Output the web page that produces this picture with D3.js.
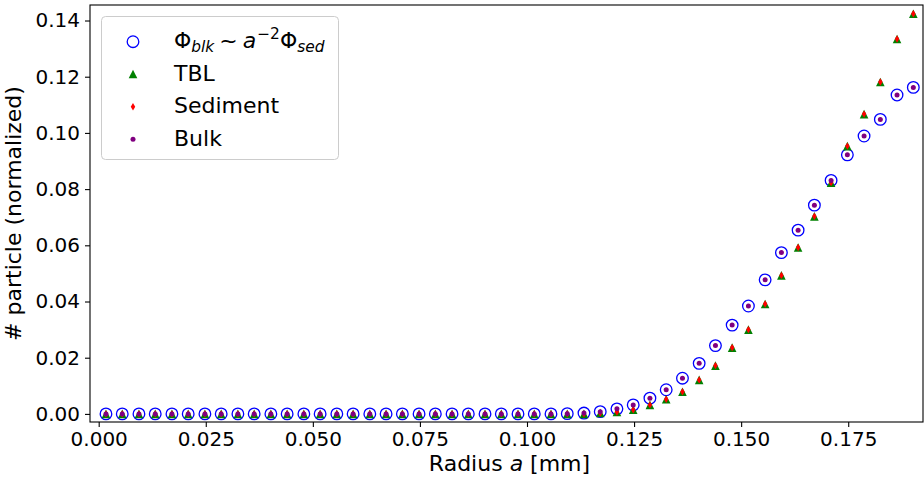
<!DOCTYPE html>
<html>
<head>
<meta charset="utf-8">
<script src="https://cdn.jsdelivr.net/npm/d3@7"></script>
<style>
  body { margin: 0; background: #fff; }
  text { font-family: "DejaVu Sans", sans-serif; }
</style>
</head>
<body>
<script>
// radius bins [mm]
var radius = [0.0017, 0.0055, 0.0094, 0.0132, 0.0171, 0.0209, 0.0248, 0.0286, 0.0325, 0.0363,
  0.0402, 0.0440, 0.0479, 0.0517, 0.0556, 0.0594, 0.0633, 0.0671, 0.0709, 0.0748,
  0.0786, 0.0825, 0.0863, 0.0902, 0.0940, 0.0979, 0.1017, 0.1056, 0.1094, 0.1133,
  0.1171, 0.1210, 0.1248, 0.1287, 0.1325, 0.1363, 0.1402, 0.1440, 0.1479, 0.1517,
  0.1556, 0.1594, 0.1633, 0.1671, 0.1710, 0.1748, 0.1787, 0.1825, 0.1864, 0.1902]

var phiBlk = [0, 0, 0, 0, 0, 0, 0, 0, 0, 0,
  0, 0, 0, 0, 0, 0, 0, 0, 0, 0,
  0, 0, 0, 0, 0, 0, 0, 0, 0.0001, 0.0003,
  0.0008, 0.0018, 0.0032, 0.0056, 0.0086, 0.0127, 0.0180, 0.0243, 0.0316, 0.0384,
  0.0477, 0.0574, 0.0654, 0.0743, 0.0831, 0.0922, 0.0989, 0.1048, 0.1135, 0.1162]

var tbl = [0, 0, 0, 0, 0, 0, 0, 0, 0, 0,
  0, 0, 0, 0, 0, 0, 0, 0, 0, 0,
  0, 0, 0, 0, 0, 0, 0, 0, 0, 0,
  0.0003, 0.0007, 0.0015, 0.0032, 0.0052, 0.0079, 0.0121, 0.0172, 0.0236, 0.0300,
  0.0391, 0.0493, 0.0592, 0.0703, 0.0823, 0.0953, 0.1067, 0.1181, 0.1334, 0.1424]

var sediment = [0, 0, 0, 0, 0, 0, 0, 0, 0, 0,
  0, 0, 0, 0, 0, 0, 0, 0, 0, 0,
  0, 0, 0, 0, 0, 0, 0, 0, 0, 0,
  0.0003, 0.0007, 0.0015, 0.0032, 0.0052, 0.0079, 0.0121, 0.0172, 0.0236, 0.0300,
  0.0391, 0.0493, 0.0592, 0.0703, 0.0823, 0.0953, 0.1067, 0.1181, 0.1334, 0.1424]

var bulk = [0, 0, 0, 0, 0, 0, 0, 0, 0, 0,
  0, 0, 0, 0, 0, 0, 0, 0, 0, 0,
  0, 0, 0, 0, 0, 0, 0, 0, 0.0001, 0.0003,
  0.0008, 0.0018, 0.0032, 0.0056, 0.0086, 0.0127, 0.0180, 0.0243, 0.0316, 0.0384,
  0.0477, 0.0574, 0.0654, 0.0743, 0.0831, 0.0922, 0.0989, 0.1048, 0.1135, 0.1162]

var xTicks = [0.000, 0.025, 0.050, 0.075, 0.100, 0.125, 0.150, 0.175]
var yTicks = [0.00, 0.02, 0.04, 0.06, 0.08, 0.10, 0.12, 0.14]

var width = 924, height = 479
// plot box (window.top is read-only, so keep these names local)
var box = { left: 90, right: 923, top: 5, bottom: 422 }

var svg = d3.select("body")
  .append("svg")
  .attr("width", width)
  .attr("height", height)

var x = d3.scaleLinear().domain([-0.00203, 0.19246]).range([box.left, box.right])
var y = d3.scaleLinear().domain([-0.00288, 0.14552]).range([box.bottom, box.top])

// axes
var xAxis = svg.append("g")
  .attr("transform", "translate(0," + box.bottom + ")")
  .call(d3.axisBottom(x).tickValues(xTicks).tickFormat(d3.format(".3f")).tickSize(5).tickPadding(5))
var yAxis = svg.append("g")
  .attr("transform", "translate(" + box.left + ",0)")
  .call(d3.axisLeft(y).tickValues(yTicks).tickFormat(d3.format(".2f")).tickSize(5).tickPadding(5))

;[xAxis, yAxis].forEach(function(g) {
  g.select(".domain").remove()
  g.selectAll("line").attr("stroke", "#000").attr("stroke-width", 1.1)
  g.selectAll("text")
    .style("font-family", "DejaVu Sans")
    .style("font-size", "20px")
    .attr("fill", "#000")
})

// frame
svg.append("rect")
  .attr("x", box.left).attr("y", box.top)
  .attr("width", box.right - box.left).attr("height", box.bottom - box.top)
  .attr("fill", "none")
  .attr("stroke", "#000")
  .attr("stroke-width", 1.1)

svg.append("text")
  .attr("x", (box.left + box.right) / 2 + 3)
  .attr("y", 471)
  .attr("text-anchor", "middle")
  .style("font-size", "22px")
  .html('Radius <tspan font-style="italic">a</tspan> [mm]')

svg.append("text")
  .attr("transform", "translate(21," + (box.top + box.bottom) / 2 + ") rotate(-90)")
  .attr("text-anchor", "middle")
  .style("font-size", "22px")
  .text("# particle (normalized)")

// marker shapes
var tri = function(s) { return "M0," + (-s) + "L" + (-s) + "," + s + "L" + s + "," + s + "Z" }
var thinDiamond = function(s) { return "M0," + (-s) + "L" + (0.6 * s) + ",0L0," + s + "L" + (-0.6 * s) + ",0Z" }

var plot = svg.append("g")

plot.selectAll("circle.phi")
  .data(phiBlk)
  .enter()
  .append("circle")
  .attr("class", "phi")
  .attr("cx", function(d, i) { return x(radius[i]) })
  .attr("cy", function(d) { return y(d) })
  .attr("r", 5.8)
  .attr("fill", "none")
  .attr("stroke", "#0000ff")
  .attr("stroke-width", 1.3)

plot.selectAll("path.tbl")
  .data(tbl)
  .enter()
  .append("path")
  .attr("class", "tbl")
  .attr("d", tri(4.3))
  .attr("transform", function(d, i) { return "translate(" + x(radius[i]) + "," + y(d) + ")" })
  .attr("fill", "#008000")

plot.selectAll("path.sed")
  .data(sediment)
  .enter()
  .append("path")
  .attr("class", "sed")
  .attr("d", thinDiamond(3.7))
  .attr("transform", function(d, i) { return "translate(" + x(radius[i]) + "," + y(d) + ")" })
  .attr("fill", "#ff0000")

plot.selectAll("circle.bulk")
  .data(bulk)
  .enter()
  .append("circle")
  .attr("class", "bulk")
  .attr("cx", function(d, i) { return x(radius[i]) })
  .attr("cy", function(d) { return y(d) })
  .attr("r", 2.5)
  .attr("fill", "#800080")

// legend
var legend = svg.append("g")
legend.append("rect")
  .attr("x", 101.5).attr("y", 16.5)
  .attr("width", 237).attr("height", 143)
  .attr("rx", 4)
  .attr("fill", "#fff")
  .attr("fill-opacity", 0.8)
  .attr("stroke", "#cccccc")
  .attr("stroke-width", 1)

var rows = [41.7, 74, 106.7, 139.3]
var mx = 133, tx = 174

legend.append("circle").attr("cx", mx).attr("cy", rows[0]).attr("r", 5.8)
  .attr("fill", "none").attr("stroke", "#0000ff").attr("stroke-width", 1.3)
legend.append("path").attr("d", tri(4.3)).attr("transform", "translate(" + mx + "," + rows[1] + ")")
  .attr("fill", "#008000")
legend.append("path").attr("d", thinDiamond(3.7)).attr("transform", "translate(" + mx + "," + rows[2] + ")")
  .attr("fill", "#ff0000")
legend.append("circle").attr("cx", mx).attr("cy", rows[3]).attr("r", 2.5)
  .attr("fill", "#800080")

legend.append("text")
  .attr("x", tx).attr("y", rows[0] + 6.3)
  .style("font-size", "22px")
  .html('Φ<tspan font-style="italic" font-size="15.4px" dy="4">blk</tspan>' +
        '<tspan dy="-4" dx="5">~</tspan>' +
        '<tspan font-style="italic" dx="5">a</tspan>' +
        '<tspan font-size="15.4px" dy="-9" dx="1">−2</tspan>' +
        '<tspan dy="9">Φ</tspan>' +
        '<tspan font-style="italic" font-size="15.4px" dy="4">sed</tspan>')

var labels = ["TBL", "Sediment", "Bulk"]
labels.forEach(function(l, i) {
  legend.append("text")
    .attr("x", tx).attr("y", rows[i + 1] + 6.7)
    .style("font-size", "22px")
    .text(l)
})
</script>
</body>
</html>
